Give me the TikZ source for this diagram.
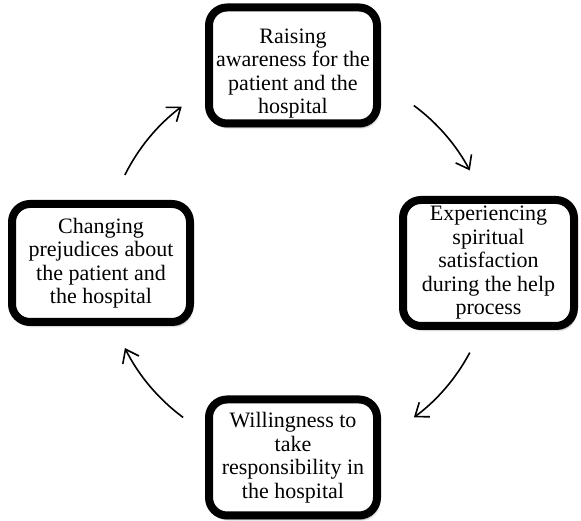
\documentclass[tikz,border=0pt]{standalone}
\usepackage{fontspec}
\setmainfont{Liberation Serif}
\usetikzlibrary{arrows.meta,shadows.blur,calc}
\begin{document}
\begin{tikzpicture}[x=1pt,y=1pt,
  box/.style={draw=black, line width=8pt, rounded corners=18pt, fill=white,
    align=center, inner sep=0pt,
    font=\fontsize{22}{23.5}\selectfont,
    blur shadow={shadow xshift=2pt, shadow yshift=-4pt, shadow blur steps=6, shadow opacity=40}},
  boxtext/.style={align=center, inner sep=0pt, font=\fontsize{22}{23.5}\selectfont},
  cyc/.style={line width=1.6pt, -{Straight Barb[length=12pt,width=18pt,line width=1.6pt]}}]
\useasboundingbox (0,0) rectangle (581,521);
\node[box, minimum width=168pt, minimum height=116pt] (top) at (293,455.5) {};
\node[boxtext] (toptext) at ($(top.center)+(0,-8)$)
  {Raising\\awareness for the\\patient and the\\hospital};
\node[box, minimum width=171pt, minimum height=126pt] (right) at (488.5,258)
  {Experiencing\\spiritual\\satisfaction\\during the help\\process};
\node[box, minimum width=168pt, minimum height=116pt] (bottom) at (293,63.5)
  {Willingness to\\take\\responsibility in\\the hospital};
\node[box, minimum width=178pt, minimum height=118pt] (left) at (101,258)
  {Changing\\prejudices about\\the patient and\\the hospital};
\coordinate (c) at (298.5,259.5);
\coordinate (a1) at ($(c)+(153.5:194)$);
\coordinate (a2) at ($(c)+(53.5:194)$);
\coordinate (a3) at ($(c)+(-28:194)$);
\coordinate (a4) at ($(c)+(-126.5:194)$);
\draw[cyc] (a1) arc[start angle=153.5, end angle=127, radius=194pt];
\draw[cyc] (a2) arc[start angle=53.5, end angle=28, radius=194pt];
\draw[cyc] (a3) arc[start angle=-28, end angle=-53.5, radius=194pt];
\draw[cyc] (a4) arc[start angle=-126.5, end angle=-153.5, radius=194pt];
\end{tikzpicture}
\end{document}
